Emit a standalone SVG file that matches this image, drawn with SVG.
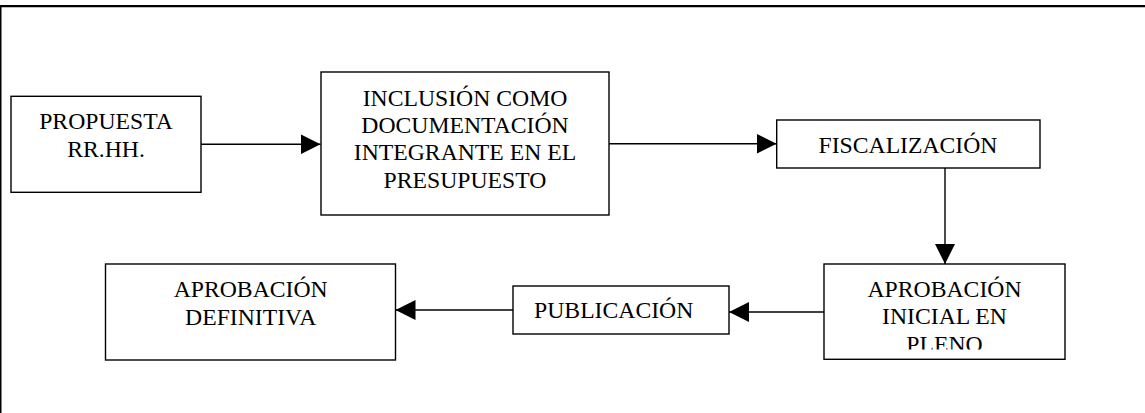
<svg xmlns="http://www.w3.org/2000/svg" width="1145" height="413" viewBox="0 0 1145 413">
  <style>
    .box { fill: #ffffff; stroke: #000000; stroke-width: 1.4; }
    .lbl { font-family: "Liberation Serif", "Times New Roman", serif; font-size: 23.7px; fill: #000000; text-anchor: middle; }
    .conn { stroke: #000000; stroke-width: 1.4; fill: none; marker-end: url(#ah); }
  </style>
  <defs>
    <marker id="ah" viewBox="0 0 20 20" refX="20" refY="10" markerWidth="20" markerHeight="20" markerUnits="userSpaceOnUse" orient="auto">
      <path d="M0,0 L20,10 L0,20 Z" fill="#000000"/>
    </marker>
    <clipPath id="clipInicial">
      <rect x="824" y="264" width="241" height="85.5"/>
    </clipPath>
  </defs>
  <rect x="0" y="0" width="1145" height="413" fill="#ffffff"/>
  <g id="frame">
    <line x1="0" y1="6.2" x2="1145" y2="6.2" stroke="#000000" stroke-width="2.3"/>
    <line x1="0.75" y1="5" x2="0.75" y2="413" stroke="#000000" stroke-width="1.5"/>
  </g>
  <g id="connectors">
    <line class="conn" x1="201" y1="144.3" x2="320.5" y2="144.3"/>
    <line class="conn" x1="609" y1="143.8" x2="776.5" y2="143.8"/>
    <line class="conn" x1="945" y1="168" x2="945" y2="264"/>
    <line class="conn" x1="824" y1="312" x2="729" y2="312"/>
    <line class="conn" x1="513" y1="310" x2="395.5" y2="310"/>
  </g>
  <g id="propuesta">
    <rect class="box" x="11" y="96.3" width="190" height="96"/>
    <text class="lbl" x="106" y="129.3">PROPUESTA</text>
    <text class="lbl" x="106" y="157.3">RR.HH.</text>
  </g>
  <g id="inclusion">
    <rect class="box" x="321" y="72" width="288" height="143"/>
    <text class="lbl" x="465" y="106">INCLUSIÓN COMO</text>
    <text class="lbl" x="465" y="133">DOCUMENTACIÓN</text>
    <text class="lbl" x="465" y="160.3">INTEGRANTE EN EL</text>
    <text class="lbl" x="465" y="187.5">PRESUPUESTO</text>
  </g>
  <g id="fiscalizacion">
    <rect class="box" x="776.7" y="120" width="263.3" height="48"/>
    <text class="lbl" x="908" y="152.7">FISCALIZACIÓN</text>
  </g>
  <g id="aprobacion-inicial">
    <rect class="box" x="824" y="264" width="241" height="95.3"/>
    <g clip-path="url(#clipInicial)">
      <text class="lbl" x="944.5" y="296.7">APROBACIÓN</text>
      <text class="lbl" x="944.5" y="324.2">INICIAL EN</text>
      <text class="lbl" x="944.5" y="351.7">PLENO</text>
    </g>
  </g>
  <g id="publicacion">
    <rect class="box" x="513" y="286" width="216" height="48"/>
    <text class="lbl" x="613.7" y="318.3">PUBLICACIÓN</text>
  </g>
  <g id="aprobacion-definitiva">
    <rect class="box" x="105.5" y="264" width="290" height="96"/>
    <text class="lbl" x="250.7" y="296.7">APROBACIÓN</text>
    <text class="lbl" x="250.7" y="325">DEFINITIVA</text>
  </g>
</svg>
